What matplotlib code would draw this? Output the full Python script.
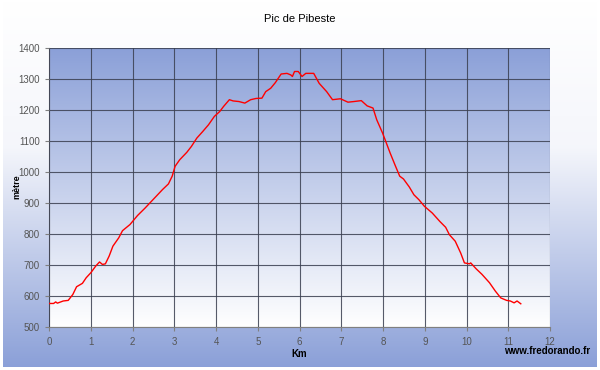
import numpy as np
import matplotlib
matplotlib.use("Agg")
import matplotlib.pyplot as plt
from matplotlib.colors import LinearSegmentedColormap

plt.rcParams['font.family'] = ['Liberation Sans', 'DejaVu Sans']

title = "Pic de Pibeste"
x_label = "Km"
y_label = "mètre"
credit = "www.fredorando.fr"

km = [0.0, 0.11, 0.16, 0.2, 0.34, 0.46, 0.57, 0.66, 0.8, 0.89, 1.0, 1.12, 1.21, 1.28, 1.35,
      1.44, 1.53, 1.67, 1.76, 1.94, 2.12, 2.3, 2.44, 2.58, 2.72, 2.86, 2.95, 3.02, 3.13, 3.3,
      3.41, 3.54, 3.68, 3.82, 3.96, 4.09, 4.18, 4.32, 4.41, 4.55, 4.69, 4.83, 4.96, 5.1, 5.19,
      5.31, 5.42, 5.56, 5.7, 5.79, 5.83, 5.88, 5.97, 6.06, 6.15, 6.34, 6.47, 6.65, 6.79, 6.98,
      7.16, 7.3, 7.48, 7.62, 7.76, 7.85, 7.99, 8.08, 8.17, 8.3, 8.4, 8.49, 8.63, 8.74, 8.86,
      8.99, 9.18, 9.36, 9.5, 9.59, 9.73, 9.86, 9.95, 10.07, 10.1, 10.23, 10.37, 10.55, 10.69,
      10.82, 10.96, 11.05, 11.14, 11.21, 11.3]
altitude = [576, 576, 581, 577, 584, 586, 605, 630, 641, 659, 675, 697, 710, 702, 704,
            729, 761, 788, 811, 831, 860, 884, 904, 924, 944, 962, 987, 1019, 1040, 1064,
            1083, 1110, 1131, 1153, 1180, 1196, 1212, 1234, 1230, 1228, 1223, 1234, 1238, 1239, 1260,
            1271, 1289, 1317, 1319, 1314, 1309, 1325, 1325, 1309, 1319, 1319, 1287, 1260, 1234, 1237,
            1226, 1228, 1231, 1214, 1207, 1169, 1126, 1094, 1062, 1019, 987, 978, 952, 927, 911,
            890, 868, 841, 822, 798, 777, 739, 707, 704, 707, 688, 670, 643, 616,
            594, 586, 584, 578, 584, 575]

x_ticks = list(range(0, 13))
y_ticks = list(range(500, 1401, 100))

blue = (0.545, 0.627, 0.847)
white = (1.0, 1.0, 1.0)

fig = plt.figure(figsize=(6, 3.7), dpi=100)

# figure background gradient: white top -> blue bottom
bg = fig.add_axes([0.005, 0.008, 0.99, 0.987], zorder=-10)
cmap_fig = LinearSegmentedColormap.from_list("f", [(0, white), (0.4, (0.96, 0.965, 0.985)), (1, blue)])
grad = np.linspace(0, 1, 256).reshape(-1, 1)
bg.imshow(grad, aspect='auto', cmap=cmap_fig, extent=[0, 1, 0, 1], origin='upper')
bg.set_axis_off()

ax = fig.add_axes([0.0817, 0.1162, 0.835, 0.7533])
ax.set_xlim(0, 12)
ax.set_ylim(500, 1400)
cmap_ax = LinearSegmentedColormap.from_list("a", [(0, blue), (1, white)])
ax.imshow(grad, aspect='auto', cmap=cmap_ax, extent=[0, 12, 500, 1400], origin='upper', zorder=0)

ax.set_xticks(x_ticks)
ax.set_yticks(y_ticks)
ax.grid(True, color='#3a3f50', linewidth=0.8, alpha=0.85, zorder=1)
ax.set_axisbelow(False)

ax.plot(km, altitude, color='#ff0000', linewidth=1.0, zorder=3)

for s in ['top', 'right']:
    ax.spines[s].set_visible(False)
for s in ['left', 'bottom']:
    ax.spines[s].set_color('#808080')
    ax.spines[s].set_linewidth(0.8)

ax.tick_params(axis='both', colors='#808080', labelcolor='#555555', labelsize=7, length=3, width=0.8)
ax.tick_params(axis='x', pad=4)

fig.text(17 / 600, 1 - 187 / 370, y_label, rotation=90, ha='center', va='center',
         fontsize=6.5, fontweight='bold')
fig.text(299 / 600, 1 - 354 / 370, x_label, ha='center', va='center',
         fontsize=7, fontweight='bold')
fig.text(0.5, 1 - 19 / 370, title, ha='center', va='center', fontsize=8)
fig.text(590 / 600, 1 - 351 / 370, credit, ha='right', va='center', fontsize=7, fontweight='bold')

fig.savefig("out.png", dpi=100)
